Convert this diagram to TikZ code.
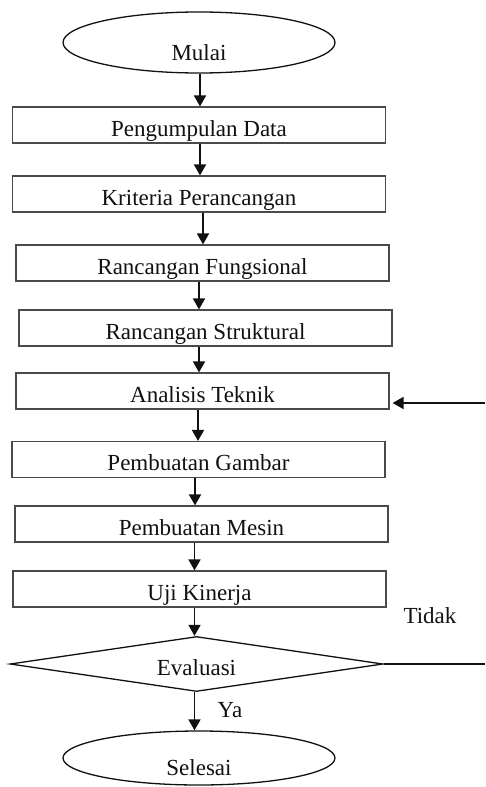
\documentclass[tikz,border=0pt]{standalone}
\usepackage{fontspec}
\setmainfont{Liberation Serif}
\usetikzlibrary{arrows.meta,shapes.geometric,calc}
\definecolor{Bc}{HTML}{4A4A4A}
\definecolor{Ac}{HTML}{111111}
\tikzset{
  lbl/.style={font=\fontsize{23}{27}\selectfont, text=Ac},
  proc/.style={lbl, rectangle, draw=Bc, line width=1.2pt, minimum width=373pt, minimum height=36pt, inner sep=0pt, text height=22pt, text depth=0pt},
  term/.style={lbl, ellipse, draw=Ac, line width=1.3pt, minimum width=272pt, inner sep=0pt, text height=35pt, text depth=0pt},
  test/.style={lbl, diamond, draw=Ac, line width=1.3pt, minimum width=373pt, minimum height=55pt, aspect=6.8, inner sep=0pt, text height=22pt, text depth=0pt},
  flow/.style={-{Triangle[length=11pt, width=12pt]}, line width=1.8pt, draw=Ac},
  back/.style={line width=1.3pt, draw=Ac},
}

\begin{document}
\begin{tikzpicture}[x=1pt, y=-1pt]
  \useasboundingbox (0,0) rectangle (485,787);
  \node[term, minimum height=61pt] (mulai) at (199,42.5) {Mulai};
  \node[proc] (b1) at (199,125) {Pengumpulan Data};
  \node[proc] (b2) at (199,194) {Kriteria Perancangan};
  \node[proc] (b3) at (202.5,263) {Rancangan Fungsional};
  \node[proc] (b4) at (205.5,328) {Rancangan Struktural};
  \node[proc] (b5) at (202.5,391) {Analisis Teknik};
  \node[proc] (b6) at (198.5,459.5) {Pembuatan Gambar};
  \node[proc] (b7) at (201.5,524) {Pembuatan Mesin};
  \node[proc] (b8) at (199.5,589) {Uji Kinerja};
  \node[test] (eval) at (196.5,664) {Evaluasi};
  \node[term, minimum height=54pt] (selesai) at (199,758) {Selesai};
  \node[lbl, anchor=base] (tidak) at (430,623) {Tidak};
  \node[lbl, anchor=base] (ya) at (230,717) {Ya};
  \foreach \a/\b/\s in {mulai/b1/1, b1/b2/1, b2/b3/4, b3/b4/-3.5, b4/b5/-6.5, b5/b6/-4.5, b6/b7/-3.5, b7/b8/-7, b8/eval/-5, eval/selesai/-2}
    \draw[flow] ($(\a.south)+(\s,0)$) -- ($(\a.south |- \b.north)+(\s,0)$);
  \coordinate (fbin) at (485,403);
  \coordinate (fbout) at (485,661);
  \draw[flow, shorten >=3pt] (fbin) -- (fbin -| b5.east);
  \draw[back] (eval.east) -- (eval.east -| fbout);
\end{tikzpicture}
\end{document}
